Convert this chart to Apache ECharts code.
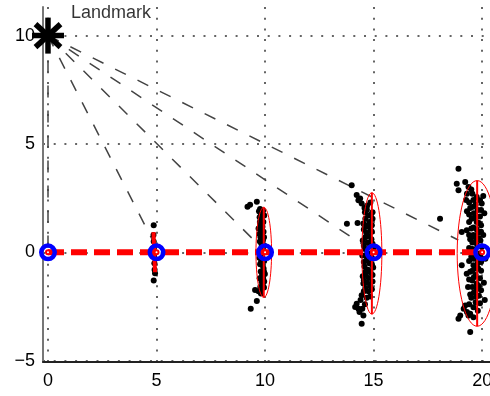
<!DOCTYPE html>
<html>
<head>
<meta charset="utf-8">
<script src="https://cdn.jsdelivr.net/npm/echarts@6/dist/echarts.min.js"></script>
<style>
html,body{margin:0;padding:0;background:#fff;}
#chart{width:490px;height:396px;}
</style>
</head>
<body>
<div id="chart"></div>
<script>
// ---- data ----
var xTicks = [0, 5, 10, 15, 20];
var yTicks = [-5, 0, 5, 10];
var landmark = [0, 10];
var landmarkLabel = 'Landmark';
var landmarkLabelPos = [1.06, 11.05];
var poses = [[0, 0], [5, 0], [10, 0], [15, 0], [20, 0]];
var trajectory = [[0, 0], [20, 0]];
var sightEnds = [[0, 0], [4.82, 0.55], [9.6, 0.45], [14.52, 0.34], [18.9, 0.57]];
// covariance ellipses: [cx, cy, semiX, semiY]
var ellipses = [[9.94, 0.0, 0.36, 2.08], [14.92, -0.05, 0.46, 2.80], [19.77, -0.05, 0.92, 3.36]];
var thinEllipse5 = [[4.86, 0.93], [4.93, -0.92]];
var particles5 = [[4.87,1.25],[4.86,0.80],[4.87,0.50],[4.88,0.20],[4.89,-0.20],[4.90,-0.50],[4.91,-0.80],[4.93,-0.97],[4.87,-1.30]];
var particles10 = [[9.19,2.10],[9.31,2.19],[9.62,2.33],[9.77,2.00],[9.80,1.80],[9.75,1.62],[9.84,1.48],[9.78,1.30],[9.88,1.18],[9.81,1.02],[9.86,0.86],[9.79,0.70],[9.90,0.55],[9.83,0.40],[9.87,0.22],[9.92,0.08],[9.84,-0.10],[9.90,-0.28],[9.82,-0.42],[9.88,-0.60],[9.93,-0.75],[9.80,-0.88],[9.86,-1.05],[9.91,-1.20],[9.84,-1.36],[9.89,-1.50],[9.95,-1.62],[9.78,-1.60],[9.54,-1.74],[9.62,-2.25],[9.34,-2.60],[9.96,1.70],[9.70,1.10],[9.97,0.30],[9.74,-0.25],[9.99,-1.00],
  [9.72,1.90],[9.90,1.92],[9.85,1.65],[9.92,1.40],[9.76,1.40],[9.93,0.95],[9.74,0.85],[9.95,0.70],[9.76,0.50],[9.96,-0.40],[9.77,-0.55],[9.95,-0.90],[9.75,-1.20],[9.96,-1.35],[9.80,-1.75],[9.70,-1.80],[9.88,1.92],[9.83,0.15],[9.81,-1.90]];
var particles15 = [[13.99,3.09],[14.22,2.65],[14.38,2.48],[14.45,2.25],[14.30,2.40],[13.77,1.32],[14.26,1.35],[14.53,1.33],[14.69,1.96],[14.75,1.70],[14.62,1.55],[14.80,1.40],[14.70,1.20],[14.85,1.05],[14.66,0.90],[14.78,0.75],[14.90,0.60],[14.72,0.45],[14.84,0.30],[14.60,0.15],[14.76,-0.05],[14.88,-0.20],[14.68,-0.35],[14.80,-0.50],[14.58,-0.65],[14.74,-0.80],[14.86,-0.92],[14.64,-1.05],[14.78,-1.18],[14.55,-1.30],[14.70,-1.40],[14.53,-1.44],[14.84,-1.55],[14.62,-1.65],[14.76,-1.80],[14.84,-2.04],[14.45,-1.98],[14.22,-2.37],[14.15,-2.52],[14.53,-2.91],[14.45,-3.29],[14.35,-2.75],[14.95,1.85],[14.92,0.95],[15.00,0.20],[14.98,-0.70],[14.95,-1.35],[14.55,1.05],[14.50,0.55],[14.48,-0.15],
  [14.60,1.85],[14.88,1.75],[14.95,1.55],[14.58,1.25],[14.92,1.25],[14.62,0.70],[14.95,0.40],[14.55,0.30],[14.65,-0.15],[14.95,-0.30],[14.55,-0.45],[14.92,-0.55],[14.62,-0.90],[14.95,-1.05],[14.50,-1.10],[14.92,-1.70],[14.55,-1.80],[14.68,-2.10],[14.40,-2.20],[14.60,-2.40],[14.30,-2.60],[14.48,-2.60],[14.70,2.15],[14.85,2.30],[14.58,2.05]];
var particles20 = [[18.91,3.86],[18.83,3.17],[19.22,3.24],[18.91,2.86],[19.37,3.02],[19.55,2.70],[19.60,2.42],[19.26,2.41],[19.70,2.20],[19.45,2.05],[19.80,1.95],[19.62,1.80],[19.90,1.65],[19.52,1.55],[19.75,1.40],[19.95,1.25],[19.60,1.15],[19.29,1.02],[19.06,0.94],[19.82,0.90],[19.68,0.70],[19.92,0.55],[19.55,0.45],[19.78,0.30],[19.65,0.10],[19.88,-0.05],[19.50,-0.20],[19.72,-0.30],[19.95,-0.45],[19.06,-0.60],[19.60,-0.60],[19.82,-0.75],[19.45,-0.90],[19.29,-0.99],[19.70,-1.05],[19.90,-1.20],[19.55,-1.30],[19.75,-1.45],[19.75,-1.68],[19.62,-1.85],[19.85,-2.00],[19.50,-2.10],[19.70,-2.30],[19.22,-2.45],[19.60,-2.53],[18.99,-2.91],[18.91,-3.07],[19.37,-2.92],[19.45,-2.83],[19.45,-3.68],[18.06,1.55],[20.05,2.60],[20.10,1.80],[20.05,0.80],[20.15,-0.30],[20.08,-1.40],[20.12,-2.20],[19.40,0.20],[19.35,-1.60],[19.98,2.25],[19.40,1.75],
  [19.30,2.70],[19.50,2.90],[19.75,2.55],[19.90,2.40],[19.40,2.30],[19.58,2.10],[19.95,1.95],[19.30,1.90],[19.68,1.60],[19.40,1.40],[19.85,1.35],[19.50,1.10],[19.75,1.05],[19.95,0.95],[19.40,0.80],[19.60,0.80],[19.45,0.60],[19.85,0.65],[19.68,0.45],[19.98,0.25],[19.55,0.15],[19.92,-0.20],[19.60,-0.30],[19.40,-0.40],[19.80,-0.50],[19.70,-0.75],[19.55,-0.85],[19.95,-0.85],[19.62,-1.15],[19.40,-1.25],[19.85,-1.55],[19.55,-1.60],[19.95,-1.75],[19.45,-1.95],[19.72,-2.05],[19.90,-2.35],[19.40,-2.40],[19.80,-2.70],[19.30,-2.75],[19.15,-2.60],[19.60,-3.00]];

// ---- chart ----
var FONT = '"Liberation Sans", Arial, Helvetica, sans-serif';
var chart = echarts.init(document.getElementById('chart'), null, {renderer: 'canvas'});
var particles = particles5.concat(particles10, particles15, particles20);
var sightLines = sightEnds.map(function (e) { return {coords: [landmark, e]}; });

var option = {
  animation: false,
  backgroundColor: '#ffffff',
  grid: {left: 43, top: 7, width: 450, height: 355, containLabel: false, outerBoundsMode: 'none'},
  xAxis: {
    type: 'value', min: -0.23, max: 20.5,
    axisLine: {show: true, onZero: false, lineStyle: {color: '#222', width: 2}},
    axisTick: {show: false, customValues: xTicks},
    axisLabel: {customValues: xTicks, fontSize: 18, color: '#000', margin: 10, fontFamily: FONT},
    splitLine: {show: true, lineStyle: {type: [2, 8.7], color: '#333', width: 1.5}}
  },
  yAxis: {
    type: 'value', min: -5.06, max: 11.32,
    axisLine: {show: true, onZero: false, lineStyle: {color: '#777', width: 2}},
    axisTick: {show: false, customValues: yTicks},
    axisLabel: {customValues: yTicks, fontSize: 18, color: '#000', margin: 8, fontFamily: FONT,
      formatter: function (v) { return String(v).replace('-', '\u2212'); }},
    splitLine: {show: true, lineStyle: {type: [2, 8.7], color: '#333', width: 1.5}}
  },
  series: [
    {
      type: 'lines', coordinateSystem: 'cartesian2d', z: 2,
      lineStyle: {color: '#444', width: 1.5, type: [12, 13], opacity: 1},
      data: sightLines
    },
    {
      type: 'scatter', z: 3, symbol: 'circle', symbolSize: 6,
      itemStyle: {color: '#000', opacity: 1},
      data: particles
    },
    {
      type: 'custom', z: 4,
      renderItem: function (params, api) {
        var cx = api.value(0), cy = api.value(1), ax = api.value(2), ay = api.value(3);
        var c = api.coord([cx, cy]);
        var s = api.size([ax, ay]);
        var t = api.coord([cx, cy + ay]);
        var b = api.coord([cx, cy - ay]);
        return {type: 'group', children: [
          {type: 'ellipse', shape: {cx: c[0], cy: c[1], rx: s[0], ry: s[1]},
           style: {fill: 'transparent', stroke: '#ff0000', lineWidth: 1}},
          {type: 'line', shape: {x1: t[0], y1: t[1], x2: b[0], y2: b[1]},
           style: {stroke: '#ff0000', lineWidth: 2}}
        ]};
      },
      data: ellipses
    },
    {
      type: 'line', z: 5, symbol: 'none',
      lineStyle: {color: '#ff0000', width: 4},
      data: thinEllipse5
    },
    {
      type: 'line', z: 6, symbol: 'none',
      lineStyle: {color: '#ff0000', width: 6, type: [16, 7]},
      data: trajectory
    },
    {
      type: 'scatter', z: 7, symbol: 'circle', symbolSize: 13.5,
      itemStyle: {color: 'rgba(0,0,0,0)', borderColor: '#0000ff', borderWidth: 4.5, opacity: 1},
      data: poses
    },
    {
      type: 'scatter', z: 8, symbol: 'circle', symbolSize: 4,
      itemStyle: {color: '#ffffff', borderColor: '#ff0000', borderWidth: 2, opacity: 1},
      data: poses
    },
    {
      type: 'custom', z: 9, clip: false,
      renderItem: function (params, api) {
        var c = api.coord([api.value(0), api.value(1)]);
        var st = {stroke: '#000', lineWidth: 5.5};
        return {type: 'group', children: [
          {type: 'line', shape: {x1: c[0] - 16, y1: c[1], x2: c[0] + 16, y2: c[1]}, style: st},
          {type: 'line', shape: {x1: c[0], y1: c[1] - 18, x2: c[0], y2: c[1] + 18}, style: st},
          {type: 'line', shape: {x1: c[0] - 12.5, y1: c[1] - 11.5, x2: c[0] + 12.5, y2: c[1] + 11.5}, style: st},
          {type: 'line', shape: {x1: c[0] - 12.5, y1: c[1] + 11.5, x2: c[0] + 12.5, y2: c[1] - 11.5}, style: st}
        ]};
      },
      data: [landmark]
    },
    {
      type: 'scatter', z: 10, symbolSize: 0,
      label: {show: true, position: 'right', distance: 0, formatter: landmarkLabel,
        fontSize: 18, color: '#000', fontFamily: FONT},
      data: [landmarkLabelPos]
    }
  ]
};
chart.setOption(option);
</script>
</body>
</html>
